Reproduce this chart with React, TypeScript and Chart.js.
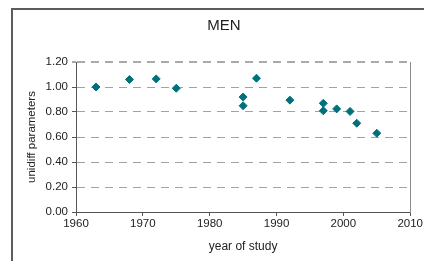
import React, { useEffect, useRef } from "react";
import { Chart, registerables } from "chart.js";

Chart.register(...registerables);

const years = [1963, 1968, 1972, 1975, 1985, 1985, 1987, 1992, 1997, 1997, 1999, 2001, 2002, 2005];
const values = [1.0, 1.06, 1.065, 0.99, 0.92, 0.85, 1.07, 0.895, 0.87, 0.81, 0.825, 0.805, 0.71, 0.63];
const yTicks = [0, 0.2, 0.4, 0.6, 0.8, 1.0, 1.2];
const xTicks = [1960, 1970, 1980, 1990, 2000, 2010];
const titleText = "MEN";
const xTitle = "year of study";
const yTitle = "unidiff parameters";

const FONT = "'Liberation Sans', Arial, sans-serif";

const framePlugin = {
  id: "frame",
  afterDraw(chart: any) {
    const { ctx } = chart;
    ctx.save();
    ctx.strokeStyle = "#5c5c5c";
    ctx.lineWidth = 2;
    ctx.strokeRect(12, 9, 600, 600);
    ctx.restore();
  },
};

export default function App() {
  const ref = useRef<HTMLCanvasElement>(null);
  useEffect(() => {
    if (!ref.current) return;
    const chart = new Chart(ref.current, {
      type: "scatter",
      data: {
        datasets: [
          {
            data: years.map((x, i) => ({ x, y: values[i] })),
            pointStyle: "rectRot",
            pointRadius: 4,
            pointBorderWidth: 1,
            backgroundColor: "#00717c",
            borderColor: "#00717c",
          },
        ],
      },
      options: {
        responsive: false,
        animation: false,
        layout: { padding: { left: 24, right: 0, top: 0, bottom: 0 } },
        plugins: {
          legend: { display: false },
          tooltip: { enabled: false },
          title: {
            display: true,
            text: titleText,
            color: "#222",
            font: { family: FONT, size: 15, weight: "normal" },
            padding: { top: 17, bottom: 27 },
          },
        },
        scales: {
          x: {
            type: "linear",
            min: 1960,
            max: 2010,
            afterBuildTicks: (axis: any) => {
              axis.ticks = xTicks.map((v) => ({ value: v }));
            },
            afterFit: (axis: any) => {
              axis.height = 49;
            },
            grid: {
              drawOnChartArea: false,
              drawTicks: true,
              tickLength: 4,
              color: "#555",
            },
            border: { display: true, color: "#555", width: 1 },
            ticks: {
              color: "#222",
              padding: 1,
              maxRotation: 0,
              font: { family: FONT, size: 11.5 },
              callback: (v: any) => String(v),
            },
            title: {
              display: true,
              text: xTitle,
              color: "#222",
              font: { family: FONT, size: 12 },
              padding: { top: 0, bottom: 6.8 },
            },
          },
          y: {
            min: 0,
            max: 1.2,
            afterBuildTicks: (axis: any) => {
              axis.ticks = yTicks.map((v) => ({ value: v }));
            },
            afterFit: (axis: any) => {
              axis.width = 52;
            },
            grid: {
              drawOnChartArea: true,
              drawTicks: true,
              tickLength: 4,
              color: (c: any) => (c.tick && c.tick.value >= 1.19 ? "#b0a8a4" : "#a8a09c"),
              lineWidth: (c: any) => (c.tick && c.tick.value >= 1.19 ? 2 : 1),
              tickColor: "#555",
              tickWidth: 1,
              tickBorderDash: [],
            },
            border: { display: true, color: "#555", width: 1, dash: [8, 6] },
            ticks: {
              color: "#222",
              padding: 4,
              font: { family: FONT, size: 11.5 },
              callback: (v: any) => Number(v).toFixed(2),
            },
            title: {
              display: true,
              text: yTitle,
              color: "#222",
              font: { family: FONT, size: 11.5 },
              padding: { top: 1, bottom: 0 },
            },
          },
          yRight: {
            position: "right",
            min: 0,
            max: 1.2,
            afterFit: (axis: any) => {
              axis.width = 11;
            },
            grid: { display: false, drawTicks: false },
            border: { display: true, color: "#8a8a8a", width: 1 },
            ticks: { display: false },
          },
        },
      },
      plugins: [framePlugin],
    });
    return () => chart.destroy();
  }, []);
  return (
    <div style={{ position: "fixed", left: 0, top: 0, width: 424, height: 261, background: "#fff" }}>
      <canvas ref={ref} width={424} height={261} />
    </div>
  );
}
